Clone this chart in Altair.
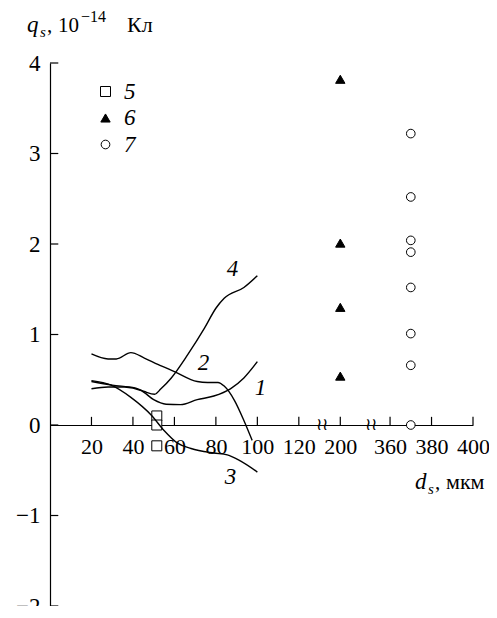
import altair as alt
import pandas as pd

# ---------------- data ----------------
c1_d = [20, 28, 36, 44, 50, 56, 63, 71, 79, 87, 93.5, 100]
c1_q = [0.40, 0.42, 0.42, 0.38, 0.28, 0.23, 0.225, 0.28, 0.32, 0.40, 0.52, 0.70]
c2_d = [20, 28, 32, 39, 45.5, 52, 60, 71, 76, 81, 84, 89, 93.5, 97.5]
c2_q = [0.785, 0.73, 0.73, 0.80, 0.74, 0.67, 0.59, 0.48, 0.47, 0.47, 0.43, 0.27, 0.05, -0.17]
c3_d = [20, 29.5, 39, 49, 55, 61.5, 68, 79, 85.5, 92, 100]
c3_q = [0.49, 0.44, 0.305, 0.105, -0.06, -0.20, -0.26, -0.31, -0.33, -0.40, -0.52]
c4_d = [20, 30, 41, 45.5, 50.5, 53.5, 58.5, 66.5, 74.5, 80, 84, 93.5, 100]
c4_q = [0.48, 0.44, 0.41, 0.37, 0.34, 0.40, 0.52, 0.78, 1.07, 1.29, 1.40, 1.52, 1.65]

s5_d = [51.5, 51.5, 51.5]
s5_q = [0.10, 0.0, -0.23]
s6_d = [200, 200, 200, 200]
s6_q = [3.82, 2.01, 1.30, 0.54]
s7_d = [370, 370, 370, 370, 370, 370, 370, 370]
s7_q = [3.22, 2.52, 2.04, 1.91, 1.52, 1.01, 0.66, 0.0]

curve_names = ["1", "2", "3", "4"]
label_d = [101.5, 74, 87, 88]
label_q = [0.41, 0.68, -0.57, 1.72]

x_tick_d = [20, 40, 60, 80, 100, 120, 200, 360, 380, 400]
y_ticks = [-2, -1, 0, 1, 2, 3, 4]
break_u = [131, 155]


def to_u(d):
    # broken x axis: 0-120 linear, then 200 segment, then 360-400 segment
    if d <= 130:
        return d
    if d <= 300:
        return d - 60
    return d - 196


W, H = 423, 543
FONT = "serif"

rows = []
for name, ds, qs in [("1", c1_d, c1_q), ("2", c2_d, c2_q), ("3", c3_d, c3_q), ("4", c4_d, c4_q)]:
    for d, q in zip(ds, qs):
        rows.append({"curve": name, "u": to_u(d), "q": q})
df_curves = pd.DataFrame(rows)

prow = []
for name, ds, qs in [("5", s5_d, s5_q), ("6", s6_d, s6_q), ("7", s7_d, s7_q)]:
    for d, q in zip(ds, qs):
        prow.append({"series": name, "u": to_u(d), "q": q})
df_pts = pd.DataFrame(prow)

df_lab = pd.DataFrame({"t": curve_names, "u": [to_u(d) for d in label_d], "q": label_q})
x_tick_u = [to_u(d) for d in x_tick_d]
df_xt = pd.DataFrame({"u": x_tick_u})
df_yt = pd.DataFrame({"q": y_ticks})
df_br = pd.DataFrame({"u": break_u, "q": [0, 0]})

xscale = alt.Scale(domain=[0, 204], nice=False, zero=False)
yscale = alt.Scale(domain=[-2, 4], nice=False, zero=False)

xaxis = alt.Axis(
    values=x_tick_u,
    labelExpr="datum.value <= 130 ? datum.value : (datum.value < 150 ? datum.value + 60 : datum.value + 196)",
    ticks=False, grid=False, title=None, offset=-H / 3,
    domainColor="black", domainWidth=1.2,
    labelFont=FONT, labelFontSize=22, labelColor="black", labelPadding=11,
    labelFlush=False, labelOverlap=False,
)
yaxis = alt.Axis(
    values=y_ticks, format="d", ticks=False, grid=False, title=None,
    domainColor="black", domainWidth=1.2,
    labelFont=FONT, labelFontSize=23, labelColor="black", labelPadding=10,
    labelFlush=False, labelOverlap=False,
)

X = alt.X("u:Q", scale=xscale, axis=xaxis)
Y = alt.Y("q:Q", scale=yscale, axis=yaxis)

leg = alt.Legend(
    title=None, orient="none", legendX=44, legendY=17,
    labelFont=FONT, labelFontStyle="italic", labelFontSize=23, labelColor="black",
    labelOffset=7, rowPadding=2.5, symbolStrokeWidth=1,
)
ser_dom = ["5", "6", "7"]
points = alt.Chart(df_pts).mark_point(
    strokeWidth=1, opacity=1, fillOpacity=1
).encode(
    x=X, y=Y,
    shape=alt.Shape("series:N", scale=alt.Scale(domain=ser_dom, range=["square", "triangle-up", "circle"]), legend=leg),
    fill=alt.Fill("series:N", scale=alt.Scale(domain=ser_dom, range=["white", "black", "white"]), legend=leg),
    stroke=alt.Stroke("series:N", scale=alt.Scale(domain=ser_dom, range=["black", "black", "black"]), legend=leg),
    size=alt.Size("series:N", scale=alt.Scale(domain=ser_dom, range=[100, 75, 64]), legend=leg),
)

lines = alt.Chart(df_curves).mark_line(
    interpolate="monotone", color="black", strokeWidth=1.4
).encode(x=X, y=Y, detail="curve:N")

xticks = alt.Chart(df_xt).mark_rule(color="black", strokeWidth=1.2).encode(
    x="u:Q", y=alt.datum(0), y2=alt.datum(0.09)
)
yticks = alt.Chart(df_yt).mark_rule(color="black", strokeWidth=1.2).encode(
    y="q:Q", x=alt.datum(0), x2=alt.datum(4)
)
breaks = alt.Chart(df_br).mark_text(
    text="≀≀", font=FONT, fontSize=17, color="black", baseline="middle"
).encode(x="u:Q", y="q:Q")

labels = alt.Chart(df_lab).mark_text(
    font=FONT, fontStyle="italic", fontSize=23, color="black", align="center", baseline="middle"
).encode(x="u:Q", y="q:Q", text="t:N")

one = pd.DataFrame({"k": [0]})


def txt(s, x, y, size=20, style="normal"):
    return alt.Chart(one).mark_text(
        text=s, font=FONT, fontSize=size, fontStyle=style, color="black",
        align="left", baseline="alphabetic"
    ).encode(x=alt.value(x), y=alt.value(y))


ytitle = [
    txt("q", -23, -31, 23, "italic"),
    txt("s", -10, -26, 15, "italic"),
    txt(",", -3, -31, 21),
    txt("10", 8, -31, 21),
    txt("−14", 31, -41, 16),
    txt("Кл", 77, -31, 22),
]
xtitle = [
    txt("d", 365, 426, 23, "italic"),
    txt("s", 378, 431, 15, "italic"),
    txt(",", 385, 426, 21),
    txt("мкм", 396, 426, 22),
]

chart = alt.layer(
    xticks, yticks, breaks, points, lines, labels, *ytitle, *xtitle
).properties(
    width=W, height=H,
    autosize=alt.AutoSizeParams(type="none"),
    padding={"left": 42, "top": 55, "right": 16, "bottom": 0},
    background="white",
).configure_view(stroke=None)

chart.save("out.html", embed_options={"renderer": "svg", "actions": False})
